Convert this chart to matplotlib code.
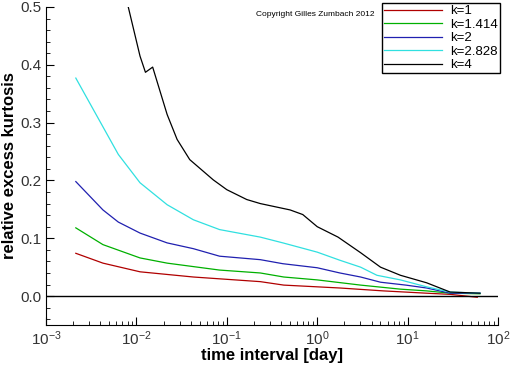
import numpy as np
import matplotlib
matplotlib.use('Agg')
import matplotlib.pyplot as plt
from matplotlib.ticker import FixedLocator, LogLocator, MultipleLocator, FuncFormatter

plt.rcParams['font.family'] = ['Liberation Sans', 'DejaVu Sans']
plt.rcParams['mathtext.fontset'] = 'custom'
plt.rcParams['mathtext.rm'] = 'Liberation Sans'
plt.rcParams['mathtext.it'] = 'Liberation Sans'
plt.rcParams['mathtext.default'] = 'regular'

# log10 of the time interval [day]
logx_k1 = [-2.67, -2.37, -1.96, -1.37, -0.63, -0.37, 0.25, 0.73, 1.21, 1.47, 1.77]
k1 = [0.074, 0.057, 0.042, 0.033, 0.025, 0.019, 0.014, 0.009, 0.005, 0.003, -0.002]

logx_k1414 = [-2.67, -2.37, -1.96, -1.66, -1.08, -0.63, -0.37, 0.0, 0.48, 0.92, 1.21, 1.47, 1.80]
k1414 = [0.118, 0.089, 0.066, 0.057, 0.045, 0.040, 0.033, 0.028, 0.019, 0.012, 0.009, 0.005, 0.004]

logx_k2 = [-2.67, -2.37, -2.20, -1.96, -1.66, -1.37, -1.08, -0.63, -0.38, 0.0, 0.25, 0.48,
           0.70, 0.98, 1.21, 1.47, 1.80]
k2 = [0.198, 0.149, 0.128, 0.109, 0.092, 0.082, 0.069, 0.063, 0.056, 0.049, 0.040, 0.033,
      0.024, 0.019, 0.014, 0.005, 0.005]

logx_k2828 = [-2.67, -2.20, -1.96, -1.66, -1.37, -1.08, -0.63, -0.38, 0.0, 0.25, 0.48, 0.66,
              0.92, 1.21, 1.47, 1.80]
k2828 = [0.377, 0.245, 0.196, 0.158, 0.132, 0.115, 0.102, 0.092, 0.076, 0.062, 0.050, 0.036,
         0.028, 0.016, 0.007, 0.005]

logx_k4 = [-2.30, -2.09, -1.96, -1.90, -1.82, -1.66, -1.55, -1.41, -1.15, -1.00, -0.78, -0.63,
           -0.30, -0.16, 0.0, 0.23, 0.48, 0.70, 0.92, 1.21, 1.47, 1.80]
k4 = [0.62, 0.50, 0.415, 0.387, 0.396, 0.314, 0.271, 0.236, 0.201, 0.184, 0.167, 0.160,
      0.149, 0.141, 0.120, 0.102, 0.075, 0.050, 0.036, 0.023, 0.007, 0.005]

series = [
    ('k=1', logx_k1, k1, '#b00000'),
    ('k=1.414', logx_k1414, k1414, '#00b000'),
    ('k=2', logx_k2, k2, '#2020b0'),
    ('k=2.828', logx_k2828, k2828, '#30e0e0'),
    ('k=4', logx_k4, k4, 'black'),
]

fig = plt.figure(figsize=(5.12, 3.66), dpi=100)
ax = fig.add_axes([0.0898, 0.112, 0.883, 0.869])

for label, lx, y, c in series:
    ax.plot(10 ** np.array(lx), y, color=c, lw=0.9, label=label)

ax.axhline(0, color='black', lw=1.0)

ax.set_xscale('log')
ax.set_xlim(1e-3, 1e2)
ax.set_ylim(-0.05, 0.5)

ax.spines['top'].set_visible(False)
ax.spines['right'].set_visible(False)

ax.xaxis.set_major_locator(FixedLocator([1e-3, 1e-2, 1e-1, 1e0, 1e1, 1e2]))
ax.xaxis.set_minor_locator(LogLocator(base=10, subs=np.arange(2, 10)))
ax.xaxis.set_major_formatter(FuncFormatter(lambda v, p: r'$10^{%d}$' % round(np.log10(v))))
ax.yaxis.set_major_locator(MultipleLocator(0.1))
ax.yaxis.set_minor_locator(MultipleLocator(0.02))
ax.yaxis.set_major_formatter(FuncFormatter(lambda v, p: '%.1f' % v))

ax.tick_params(which='both', direction='in', labelsize=11, colors='black', labelcolor='#333333')
ax.tick_params(which='major', length=6)
ax.tick_params(which='minor', length=3)

ax.set_xlabel('time interval [day]', fontsize=12, fontweight='bold', labelpad=0)
ax.set_ylabel('relative excess kurtosis', fontsize=12, fontweight='bold', labelpad=2)

leg = ax.legend(loc='upper right', bbox_to_anchor=(1.004, 1.0126), borderaxespad=0,
                fontsize=9.5, frameon=True, fancybox=False, edgecolor='black', framealpha=1,
                handlelength=4.4, borderpad=0.15, labelspacing=0.1, handletextpad=0.6)
leg.get_frame().set_linewidth(1.0)

fig.text(0.5, 0.955, 'Copyright Gilles Zumbach 2012', fontsize=6)

fig.savefig('out.png', dpi=100)
